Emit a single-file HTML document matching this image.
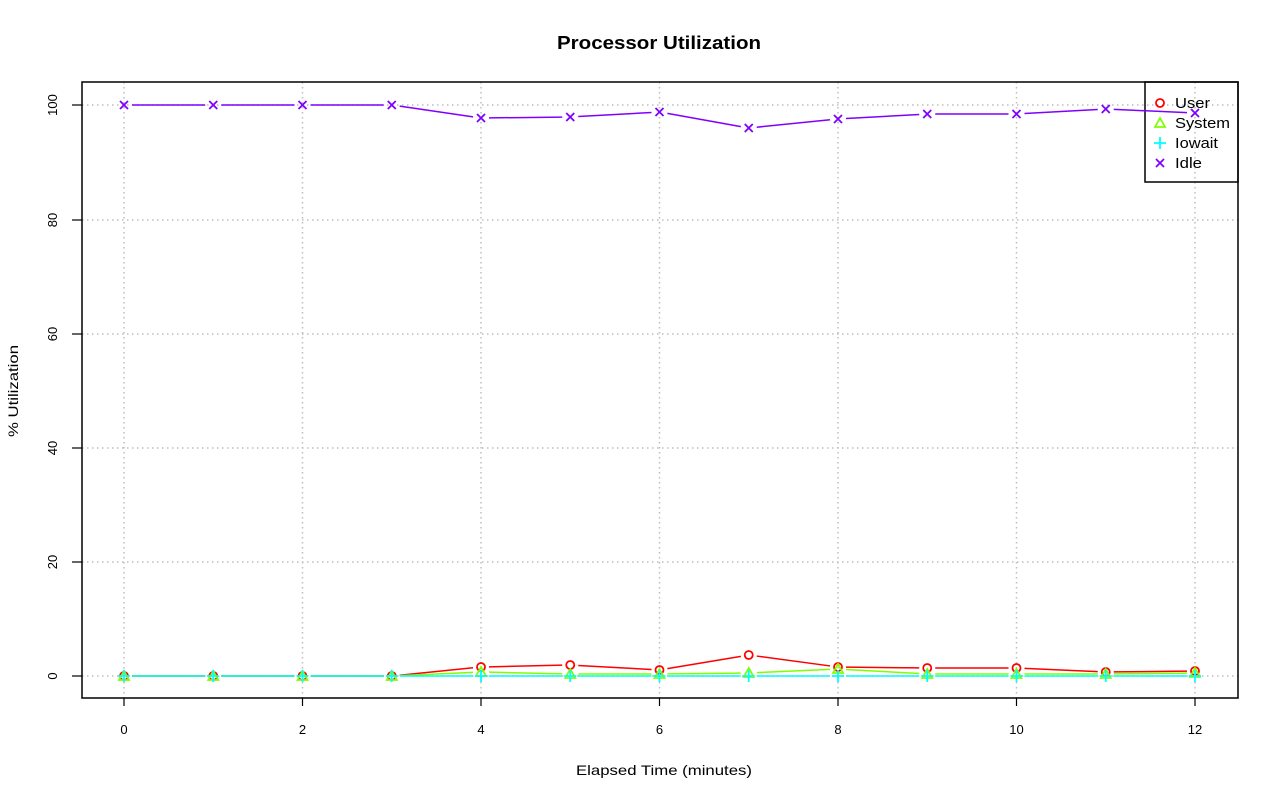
<!DOCTYPE html>
<html><head><meta charset="utf-8"><style>
html,body{margin:0;padding:0;background:#fff;}
svg text{font-family:"Liberation Sans",sans-serif;}
</style></head><body>
<svg id="s" width="1280" height="801" xmlns="http://www.w3.org/2000/svg">
<rect width="1280" height="801" fill="#fff"/>
<text x="659" y="49" font-size="18" font-weight="bold" text-anchor="middle" textLength="204" lengthAdjust="spacingAndGlyphs">Processor Utilization</text>
<g stroke="#bebebe" stroke-width="1.5" stroke-dasharray="1.5,3.5" fill="none">
<line x1="124" y1="82" x2="124" y2="698"/><line x1="302.5" y1="82" x2="302.5" y2="698"/>
<line x1="481" y1="82" x2="481" y2="698"/><line x1="659.5" y1="82" x2="659.5" y2="698"/>
<line x1="838" y1="82" x2="838" y2="698"/><line x1="1016.5" y1="82" x2="1016.5" y2="698"/>
<line x1="1195" y1="82" x2="1195" y2="698"/>
<line x1="82" y1="676" x2="1238" y2="676"/><line x1="82" y1="562" x2="1238" y2="562"/>
<line x1="82" y1="448" x2="1238" y2="448"/><line x1="82" y1="334" x2="1238" y2="334"/>
<line x1="82" y1="220" x2="1238" y2="220"/><line x1="82" y1="105" x2="1238" y2="105"/>
</g>
<rect x="1145" y="82" width="93" height="100" fill="none" stroke="#000" stroke-width="1.5"/>
<g id="series"></g>
<rect x="82" y="82" width="1156" height="616" fill="none" stroke="#000" stroke-width="1.5"/>
<g stroke="#000" stroke-width="1.2">
<line x1="124" y1="698" x2="124" y2="706"/><line x1="302.5" y1="698" x2="302.5" y2="706"/>
<line x1="481" y1="698" x2="481" y2="706"/><line x1="659.5" y1="698" x2="659.5" y2="706"/>
<line x1="838" y1="698" x2="838" y2="706"/><line x1="1016.5" y1="698" x2="1016.5" y2="706"/>
<line x1="1195" y1="698" x2="1195" y2="706"/>
<line x1="82" y1="676" x2="72" y2="676"/><line x1="82" y1="562" x2="72" y2="562"/>
<line x1="82" y1="448" x2="72" y2="448"/><line x1="82" y1="334" x2="72" y2="334"/>
<line x1="82" y1="220" x2="72" y2="220"/><line x1="82" y1="105" x2="72" y2="105"/>
</g>
<g font-size="13" text-anchor="middle">
<text x="124" y="734">0</text><text x="302.5" y="734">2</text><text x="481" y="734">4</text>
<text x="659.5" y="734">6</text><text x="838" y="734">8</text><text x="1016.5" y="734">10</text>
<text x="1195" y="734">12</text>
<text transform="translate(57,676) rotate(-90)">0</text>
<text transform="translate(57,562) rotate(-90)">20</text>
<text transform="translate(57,448) rotate(-90)">40</text>
<text transform="translate(57,334) rotate(-90)">60</text>
<text transform="translate(57,220) rotate(-90)">80</text>
<text transform="translate(57,105) rotate(-90)">100</text>
</g>
<text x="664" y="775" font-size="14" text-anchor="middle" textLength="176" lengthAdjust="spacingAndGlyphs">Elapsed Time (minutes)</text>
<text transform="translate(18,391) rotate(-90)" font-size="14" text-anchor="middle" textLength="92" lengthAdjust="spacingAndGlyphs">% Utilization</text>
<g id="leg"></g>
<g font-size="15">
<text x="1175" y="108" textLength="35" lengthAdjust="spacingAndGlyphs">User</text>
<text x="1175" y="128" textLength="55" lengthAdjust="spacingAndGlyphs">System</text>
<text x="1175" y="148" textLength="43" lengthAdjust="spacingAndGlyphs">Iowait</text>
<text x="1175" y="168" textLength="27" lengthAdjust="spacingAndGlyphs">Idle</text>
</g>
<script>
var NS="http://www.w3.org/2000/svg";
function X(i){return 124+i*89.25;}
var data=[
 ["#ff0000","o",[676,676,676,676,667,665,670,655,667,668,668,672,671]],
 ["#80ff00","t",[676,676,676,676,672,674,674,673,669,674,674,674,673]],
 ["#00ffff","p",[676,676,676,676,676,676,676,676,676,676,676,676,676]],
 ["#8000ff","x",[105,105,105,105,118,117,112,128,119,114,114,109,113]]
];
var g=document.getElementById("series"),lg=document.getElementById("leg");
function el(t,a,p){var e=document.createElementNS(NS,t);for(var k in a)e.setAttribute(k,a[k]);p.appendChild(e);return e;}
function mark(type,c,x,y,p){
 var s={stroke:c,"stroke-width":1.8,fill:"none"};
 if(type=="o"){s.cx=x;s.cy=y;s.r=4;el("circle",s,p);}
 else if(type=="t"){s.points=(x-5)+","+(y+4)+" "+x+","+(y-5)+" "+(x+5)+","+(y+4);el("polygon",s,p);}
 else if(type=="p"){el("path",{d:"M"+(x-6)+" "+y+"h12M"+x+" "+(y-6)+"v12",stroke:c,"stroke-width":1.8},p);}
 else {el("path",{d:"M"+(x-4)+" "+(y-4)+"l8 8M"+(x-4)+" "+(y+4)+"l8 -8",stroke:c,"stroke-width":1.8},p);}
}
data.forEach(function(d,k){
 var ys=d[2];
 for(var i=0;i<12;i++){
  var x1=X(i),y1=ys[i],x2=X(i+1),y2=ys[i+1],dx=x2-x1,dy=y2-y1,L=Math.hypot(dx,dy),f=8/L;
  el("line",{x1:x1+dx*f,y1:y1+dy*f,x2:x2-dx*f,y2:y2-dy*f,stroke:d[0],"stroke-width":1.5},g);
 }
 for(var i=0;i<13;i++)mark(d[1],d[0],X(i),ys[i],g);
 mark(d[1],d[0],1160,103+k*20,lg);
});
</script>
</svg>
</body></html>
